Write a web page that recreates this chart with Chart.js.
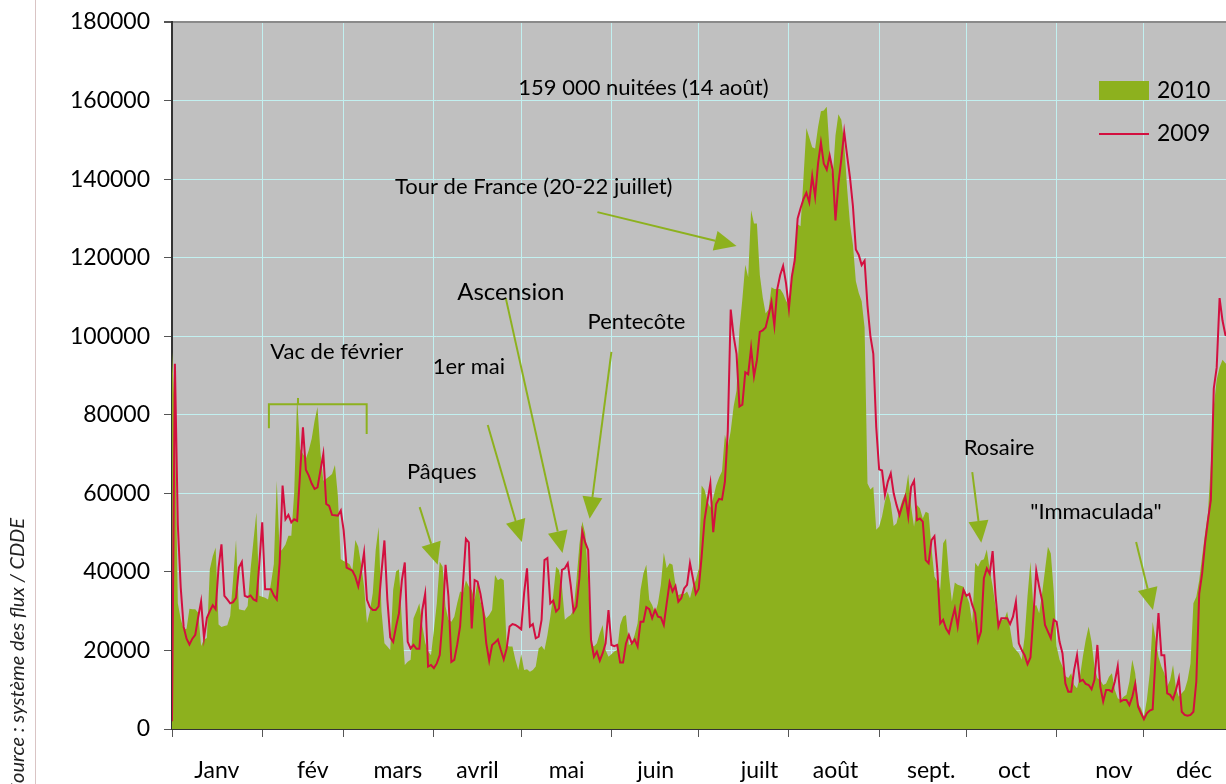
<!DOCTYPE html>
<html>
<head>
<meta charset="utf-8">
<script src="https://cdn.jsdelivr.net/npm/chart.js@4.4.1/dist/chart.umd.min.js"></script>
<style>
  html, body { margin: 0; padding: 0; background: #fff; }
  #wrap { position: relative; width: 1226px; height: 784px; }
</style>
</head>
<body>
<div id="wrap"><canvas id="myChart"></canvas></div>
<script>
// nuitées par jour, 1er janvier = jour 0
const nuitees2010 = [
  96000, 80000, 32000, 28000, 25400, 25500, 30600, 30500, 30500, 29600,
  21100, 22800, 23200, 40700, 44000, 46200, 26600, 26000, 26200, 26400,
  28800, 38100, 48200, 30500, 30300, 30200, 31300, 40700, 48000, 55100,
  33900, 33700, 33400, 33000, 37000, 42000, 63200, 45000, 45800, 47000,
  49200, 49200, 60300, 84500, 71300, 70000, 68800, 71000, 73900, 78500,
  82000, 70500, 63200, 63700, 64300, 64900, 67200, 59400, 43200, 42800,
  42400, 42000, 40500, 48100, 46400, 41800, 36300, 26900, 30000, 34600,
  45600, 51400, 30000, 21800, 21000, 20100, 35400, 40100, 40700, 27300,
  16300, 17100, 17600, 28200, 30000, 32000, 26500, 22000, 19700, 18800,
  25200, 32000, 42600, 41300, 31200, 27800, 27300, 28600, 32000, 35000,
  34600, 37900, 36300, 35400, 32900, 37900, 32400, 30300, 28200, 29000,
  30300, 39200, 37900, 38400, 37900, 21200, 21000, 21000, 17600, 15000,
  19000, 15000, 15200, 14600, 15000, 15900, 20500, 21100, 20100, 23900,
  28600, 34100, 41300, 40500, 36300, 27800, 28500, 29000, 30300, 37900,
  46900, 52800, 49800, 37900, 21800, 21000, 21800, 24400, 26500, 20100,
  18400, 19000, 19700, 20100, 26500, 28600, 29000, 21400, 21800, 24000,
  26900, 35400, 39600, 41800, 32900, 31600, 29500, 32000, 36700, 44900,
  40900, 42200, 41800, 36700, 34100, 34400, 34400, 35000, 33300, 36300,
  37900, 40800, 62000, 60900, 58000, 56300, 58900, 62000, 64000, 65600,
  74900, 71800, 75900, 82100, 86200, 101700, 109400, 118200, 115000, 132100,
  128700, 128700, 115600, 109900, 105800, 106800, 112500, 112000, 112000, 112000,
  110900, 109000, 107800, 116100, 118200, 128500, 128000, 140300, 153000, 150600,
  148100, 147800, 153200, 157300, 157500, 158400, 147000, 139800, 151100, 156500,
  155100, 149100, 137700, 128500, 123300, 114000, 111000, 108900, 102200, 62500,
  61000, 61700, 50700, 51500, 54100, 58000, 60400, 57500, 51700, 52400,
  55800, 58300, 60000, 64900, 56600, 51500, 57000, 56200, 53600, 55300,
  54900, 46000, 38800, 37500, 35400, 47300, 48500, 39200, 32400, 37300,
  36700, 36500, 36200, 34100, 32000, 26900, 42300, 41300, 42900, 43200,
  45700, 40500, 36400, 31100, 27300, 27800, 27800, 29900, 25600, 21000,
  20100, 19300, 17600, 23500, 33900, 42600, 31100, 31600, 29500, 34500,
  40500, 46400, 44700, 35000, 21000, 17600, 15900, 13500, 13000, 14200,
  11200, 10400, 13300, 18400, 22700, 26100, 22200, 15900, 12900, 12500,
  11200, 11600, 13300, 14200, 9900, 7800, 7400, 8200, 8700, 12100,
  17600, 14200, 6500, 5300, 3100, 7400, 14200, 27300, 22700, 18400,
  15900, 14200, 10800, 12500, 16300, 10400, 8200, 9100, 9900, 12500,
  16700, 32000, 33700, 37900, 43900, 49800, 54900, 67600, 82100, 88900,
  92100, 94000, 93100, 93000, 93000
];

const nuitees2009 = [
  2000, 93000, 52000, 36000, 26000, 23000, 21500, 23000, 24000, 28500,
  32500, 23200, 28300, 30000, 31500, 30500, 41100, 47000, 33900, 33000,
  32000, 32300, 33400, 41100, 42500, 33900, 33600, 34000, 33000, 32600,
  42000, 52600, 35600, 35600, 35600, 34000, 33000, 42400, 62000, 53400,
  54500, 52600, 53400, 53000, 65000, 76800, 66000, 64500, 62500, 61100,
  61500, 65800, 70000, 57300, 56800, 54500, 54400, 54300, 55600, 50500,
  41100, 40700, 40300, 38800, 36300, 40100, 44900, 32900, 31000, 30300,
  30300, 31200, 40000, 48000, 33000, 23300, 22200, 26100, 29500, 37900,
  42400, 22200, 20500, 21400, 20400, 20400, 30300, 34400, 15900, 16300,
  15500, 16700, 18800, 28000, 41800, 33700, 17100, 17600, 21400, 26100,
  37100, 48400, 47500, 25600, 37900, 37500, 34400, 29900, 21800, 17400,
  21400, 22000, 22800, 20100, 17700, 20500, 26100, 26700, 26500, 26000,
  25400, 34600, 40900, 26100, 26700, 23100, 23500, 27800, 43000, 43500,
  32000, 32700, 29900, 30700, 40500, 40900, 42200, 36700, 29900, 31200,
  38400, 50300, 47500, 45600, 22700, 18400, 19700, 17400, 19300, 21800,
  30300, 21400, 21100, 21400, 16900, 16900, 21800, 23900, 21800, 22800,
  21000, 27300, 27300, 31000, 30500, 28200, 30300, 28600, 28400, 26500,
  32000, 37300, 35000, 36400, 32400, 33300, 35800, 36700, 42200, 38400,
  34400, 35700, 43900, 53200, 58000, 62500, 50100, 57300, 58600, 58400,
  63000, 75900, 106800, 100000, 95500, 82100, 82600, 90800, 90300, 97000,
  89800, 93900, 101100, 101500, 102200, 105300, 108700, 102700, 112000, 115600,
  117900, 113500, 107000, 115100, 119400, 130000, 132600, 134900, 136500, 134100,
  140800, 135500, 143900, 149300, 143900, 142400, 146000, 142400, 129500, 138800,
  145000, 152000, 146000, 140300, 133100, 122100, 120700, 118100, 119200, 107800,
  100000, 95500, 76900, 66100, 65800, 59600, 63000, 65100, 60000, 57000,
  54500, 57000, 59200, 54100, 61700, 63200, 53200, 53600, 52800, 43000,
  42200, 48100, 49100, 40500, 26900, 27800, 25600, 24400, 27800, 30700,
  26100, 31600, 35400, 33900, 34400, 31600, 29500, 22500, 24800, 38400,
  40900, 39500, 45300, 34100, 26100, 28200, 28200, 28200, 26700, 28600,
  32400, 21800, 20100, 18800, 16500, 18200, 28600, 40300, 36200, 32800,
  26500, 24800, 23100, 27800, 27300, 22200, 19300, 11600, 9500, 9500,
  15000, 18800, 12100, 12500, 11500, 11200, 10100, 12500, 21400, 10800,
  7000, 9900, 9900, 9500, 12100, 16000, 7000, 7400, 7400, 6100,
  8200, 11500, 5700, 4000, 2500, 4000, 4700, 5000, 18400, 29500,
  18800, 18800, 9100, 8700, 7600, 9900, 12900, 4400, 3600, 3400,
  3600, 4400, 12100, 34500, 39600, 47300, 53200, 58300, 86700, 92000,
  109700, 104000, 100300, 100000, 99000
];

const monthNames = ["Janv", "fév", "mars", "avril", "mai", "juin", "juilt", "août", "sept.", "oct", "nov", "déc"];
const monthStarts = [0, 31, 59, 90, 120, 151, 181, 212, 243, 273, 304, 334, 365];
// où chaque nom de mois est centré (jour de l'année)
const monthLabelDays = [15.4, 48.4, 77.6, 105, 135.6, 166.2, 201.9, 228, 260.9, 289.4, 323.7, 351.2];
const yTicks = [0, 20000, 40000, 60000, 80000, 100000, 120000, 140000, 160000, 180000];

// annotations: [texte, jour, valeur]
const notes = [
  ["159 000 nuitées (14 août)", 162, 163200],
  ["Tour de France (20-22 juillet)", 124.3, 138000],
  ["Ascension", 116.4, 111300],
  ["Pentecôte", 159.6, 103600],
  ["Vac de février", 56.6, 96000],
  ["1er mai", 102, 92200],
  ["Pâques", 92.7, 65400],
  ["Rosaire", 284.2, 71500],
  ["\"Immaculada\"", 317.5, 55200]
];
// flèches: [jour départ, valeur départ, jour pointe, valeur pointe]
const arrows = [
  [146.2, 131600, 194.0, 123000],
  [114.7, 109700, 134.2, 44800],
  [108.5, 77400, 120.2, 47600],
  [151.0, 96000, 143.5, 53500],
  [85.1, 56500, 91.3, 41800],
  [275.0, 65400, 278.1, 47400],
  [331.3, 47600, 337.1, 30300]
];

const green = "#8db11e";
const red = "#d30f3f";
const cyan = "#c2f0f0";
const xMax = 362.2;

const decor = {
  id: "decor",
  beforeDraw(chart) {
    const { ctx, chartArea: a } = chart;
    ctx.save();
    ctx.fillStyle = "#c0c0c0";
    ctx.fillRect(a.left, a.top, a.right - a.left, a.bottom - a.top);
    ctx.restore();
  },
  afterDatasetsDraw(chart) {
    const { ctx, chartArea: a } = chart;
    const xs = chart.scales.x, ys = chart.scales.y;
    const px = d => xs.getPixelForValue(d);
    const py = v => ys.getPixelForValue(v);
    ctx.save();

    // flèches vertes
    ctx.strokeStyle = green;
    ctx.fillStyle = green;
    ctx.lineWidth = 2;
    arrows.forEach(([d0, v0, d1, v1]) => {
      const x0 = px(d0), y0 = py(v0), x1 = px(d1), y1 = py(v1);
      const ang = Math.atan2(y1 - y0, x1 - x0);
      const hl = 22, hw = 10;
      const bx = x1 - hl * Math.cos(ang), by = y1 - hl * Math.sin(ang);
      ctx.beginPath();
      ctx.moveTo(x0, y0);
      ctx.lineTo(bx, by);
      ctx.stroke();
      ctx.beginPath();
      ctx.moveTo(x1, y1);
      ctx.lineTo(bx + hw * Math.sin(ang), by - hw * Math.cos(ang));
      ctx.lineTo(bx - hw * Math.sin(ang), by + hw * Math.cos(ang));
      ctx.closePath();
      ctx.fill();
    });

    // accolade vacances de février
    ctx.lineWidth = 2;
    ctx.beginPath();
    ctx.moveTo(px(33.3), py(76600));
    ctx.lineTo(px(33.3), py(82700));
    ctx.lineTo(px(66.9), py(82700));
    ctx.lineTo(px(66.9), py(75100));
    ctx.moveTo(px(43.3), py(82700));
    ctx.lineTo(px(43.3), py(84300));
    ctx.stroke();

    // textes
    ctx.fillStyle = "#000";
    ctx.textAlign = "center";
    ctx.textBaseline = "middle";
    notes.forEach(([t, d, v]) => {
      ctx.font = (t === "Ascension" ? "24px" : "22px") + " Lato";
      ctx.fillText(t, px(d), py(v));
    });

    // légende
    const [s2010, s2009] = chart.data.datasets;
    const lx = a.right - 127;
    ctx.fillStyle = s2010.backgroundColor;
    ctx.fillRect(lx, a.top + 59, 50, 19);
    ctx.strokeStyle = s2009.borderColor;
    ctx.lineWidth = 2;
    ctx.beginPath();
    ctx.moveTo(lx, a.top + 112);
    ctx.lineTo(lx + 50, a.top + 112);
    ctx.stroke();
    ctx.fillStyle = "#000";
    ctx.font = "23px Lato";
    ctx.textAlign = "left";
    ctx.fillText(s2010.label, lx + 58, a.top + 69);
    ctx.fillText(s2009.label, lx + 58, a.top + 112);
    ctx.restore();
  },
  afterDraw(chart) {
    const { ctx } = chart;
    ctx.save();
    ctx.strokeStyle = "#d9c4c4";
    ctx.lineWidth = 1;
    ctx.beginPath();
    ctx.moveTo(35.5, 0);
    ctx.lineTo(35.5, 784);
    ctx.stroke();
    ctx.translate(18, 793);
    ctx.rotate(-Math.PI / 2);
    ctx.fillStyle = "#222";
    ctx.font = "italic 20px Lato";
    ctx.textBaseline = "middle";
    ctx.fillText("Source : système des flux / CDDE", 0, 0);
    ctx.restore();
  }
};

new Chart("myChart", {
  type: "line",
  data: {
    datasets: [
      {
        label: "2010",
        data: nuitees2010.map((v, i) => ({ x: i, y: v })),
        fill: "origin",
        backgroundColor: green,
        borderWidth: 0,
        pointRadius: 0,
        order: 2
      },
      {
        label: "2009",
        data: nuitees2009.map((v, i) => ({ x: i, y: v })),
        fill: false,
        borderColor: red,
        borderWidth: 2,
        pointRadius: 0,
        order: 1
      }
    ]
  },
  options: {
    responsive: true,
    maintainAspectRatio: false,
    animation: false,
    layout: { padding: { top: 22, right: 0, left: 0, bottom: 0 } },
    plugins: {
      legend: { display: false },
      tooltip: { enabled: false }
    },
    scales: {
      x: {
        type: "linear",
        min: 0,
        max: xMax,
        afterBuildTicks(scale) {
          scale.ticks = monthStarts.concat(monthLabelDays)
            .filter(v => v <= xMax)
            .sort((p, q) => p - q)
            .map(v => ({ value: v }));
        },
        afterFit(scale) {
          scale.height = 55;
          scale.paddingLeft = 0;
          scale.paddingRight = 0;
        },
        ticks: {
          autoSkip: false,
          maxRotation: 0,
          padding: 20,
          color: "#000",
          font: { family: "Lato", size: 23 },
          callback: v => {
            const i = monthLabelDays.indexOf(v);
            return i >= 0 ? monthNames[i] : "";
          }
        },
        grid: {
          color: c => (c.tick && monthStarts.includes(c.tick.value)) ? cyan : "rgba(0,0,0,0)",
          tickColor: c => (c.tick && monthStarts.includes(c.tick.value)) ? "#555" : "rgba(0,0,0,0)",
          tickLength: 8,
          lineWidth: 1
        },
        border: { color: "#333", width: 2 }
      },
      y: {
        min: 0,
        max: 180000,
        afterBuildTicks(scale) { scale.ticks = yTicks.map(v => ({ value: v })); },
        afterFit(scale) {
          scale.width = 172;
          scale.paddingTop = 0;
          scale.paddingBottom = 0;
        },
        ticks: {
          padding: 14,
          color: "#000",
          font: { family: "Lato", size: 23 },
          callback: v => String(v)
        },
        grid: {
          color: c => (c.tick && c.tick.value === 180000) ? "#8a8a8a" : cyan,
          tickColor: "#555",
          tickLength: 8,
          lineWidth: c => (c.tick && c.tick.value === 180000) ? 2 : 1
        },
        border: { color: "#333", width: 2 }
      }
    }
  },
  plugins: [decor]
});
</script>
</body>
</html>
